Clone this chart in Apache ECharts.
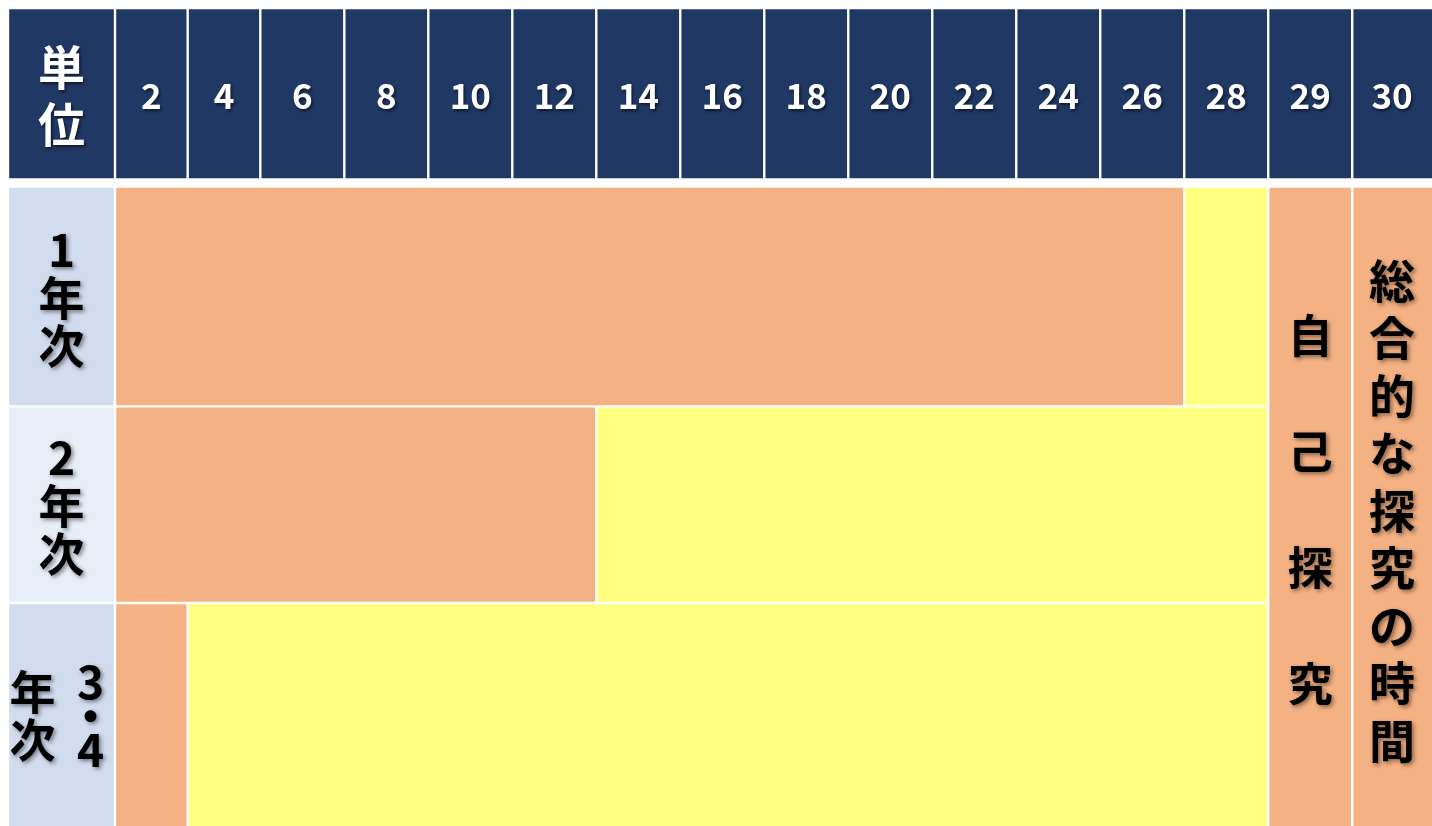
<!DOCTYPE html>
<html>
<head>
<meta charset="utf-8">
<script src="https://cdn.jsdelivr.net/npm/echarts@6/dist/echarts.min.js"></script>
<style>
  html, body { margin: 0; padding: 0; background: #ffffff; }
  #chart { width: 1432px; height: 826px; }
</style>
</head>
<body>
<div id="chart"></div>
<script>
// ---- data ----
const unitTicks = [2, 4, 6, 8, 10, 12, 14, 16, 18, 20, 22, 24, 26, 28, 29, 30];
const cornerLabel = '単位';
const years = ['1年次', '2年次', '3・4年次'];
const orangeUnits = [26, 12, 2];   // orange band ends at this unit
const yellowUnits = [28, 28, 28];  // yellow band ends at this unit
const sideUnits = [29, 30];
const sideTexts = ['自己探究', '総合的な探究の時間'];

// ---- layout (table geometry, not data) ----
const LABEL_W = 1.274;                                   // width of the label column
const COL_W = unitTicks.map((t, i) => i < 2 ? 0.865 : 1); // first two columns narrower
const ROW_H = [1.025, 0.917, 1.04];                       // body row heights
const HEAD_H = 0.8, HEAD_GAP = 0.033;
const X_MAX = 15.68;

const colEdges = [0];
COL_W.forEach(w => colEdges.push(colEdges[colEdges.length - 1] + w));
const rowEdges = [0];
ROW_H.forEach(h => rowEdges.push(rowEdges[rowEdges.length - 1] + h));
const Y_MAX = rowEdges[rowEdges.length - 1];
const HEAD_TOP = -(HEAD_H + HEAD_GAP), HEAD_BOTTOM = -HEAD_GAP;

const COLORS = {
  header: '#203864', corner: '#203864',
  year: '#D1DDEF', yearAlt: '#E8EEF7',
  orange: '#F4B183', yellow: '#FFFF80',
  side0: '#F4B183', side1: '#F4B183'
};
const FONT = '"Noto Sans CJK JP", "Noto Sans", sans-serif';

const colEnd = u => colEdges[unitTicks.indexOf(u) + 1];
const colStart = u => colEdges[unitTicks.indexOf(u)];

const items = [];
items.push([-LABEL_W, 0, HEAD_TOP, HEAD_BOTTOM, 'corner', cornerLabel]);
unitTicks.forEach(t => items.push([colStart(t), colEnd(t), HEAD_TOP, HEAD_BOTTOM, 'header', String(t)]));
years.forEach((y, i) => {
  const r0 = rowEdges[i], r1 = rowEdges[i + 1];
  items.push([-LABEL_W, 0, r0, r1, i % 2 ? 'yearAlt' : 'year', y]);
  items.push([0, colEnd(orangeUnits[i]), r0, r1, 'orange', '']);
  items.push([colEnd(orangeUnits[i]), colEnd(yellowUnits[i]), r0, r1, 'yellow', '']);
});
sideUnits.forEach((u, k) => items.push([colStart(u), colEnd(u), 0, Y_MAX, 'side' + k, sideTexts[k]]));

const whiteShadow = { textShadowColor: 'rgba(0,0,0,0.55)', textShadowBlur: 3, textShadowOffsetX: 1.5, textShadowOffsetY: 1.5 };
const blackShadow = { textShadowColor: 'rgba(0,0,0,0.45)', textShadowBlur: 4, textShadowOffsetX: 2, textShadowOffsetY: 2 };

function textEl(text, x, y, fontSize, lineHeight, fill, shadow) {
  return {
    type: 'text',
    style: Object.assign({
      text: text, x: x, y: y, fill: fill,
      fontSize: fontSize, fontFamily: FONT, fontWeight: 'bold',
      align: 'center', verticalAlign: 'middle', lineHeight: lineHeight
    }, shadow)
  };
}

function renderItem(params, api) {
  const it = items[params.dataIndex];
  const p0 = api.coord([it[0], it[2]]);
  const p1 = api.coord([it[1], it[3]]);
  const g = 1.2;
  const x = p0[0] + g, y = p0[1] + g;
  const w = p1[0] - p0[0] - 2 * g;
  const h = p1[1] - p0[1] - (it[3] >= Y_MAX ? g : 2 * g);
  const kind = it[4], txt = it[5];
  const cx = (p0[0] + Math.min(p1[0], params.coordSys.x + params.coordSys.width)) / 2;
  const cy = (p0[1] + p1[1]) / 2;
  const children = [{ type: 'rect', shape: { x, y, width: w, height: h }, style: { fill: COLORS[kind] } }];
  if (kind === 'header') {
    children.push(textEl(txt, cx, cy + 2, 35, 40, '#ffffff', whiteShadow));
  } else if (kind === 'corner') {
    children.push(textEl(txt.split('').join('\n'), cx, cy + 2, 47, 57, '#ffffff', whiteShadow));
  } else if (kind === 'year' || kind === 'yearAlt') {
    const chars = txt.split('');
    const cols = [];
    for (let i = 0; i < chars.length; i += 3) cols.push(chars.slice(i, i + 3));
    const spacing = 58;
    cols.forEach((col, ci) => {
      const offset = (cols.length - 1) / 2 * spacing - ci * spacing; // rightmost first
      const compact = /^[0-9・]+$/.test(col.join(''));
      children.push(textEl(col.join('\n'), cx + offset, cy + 1, 46, compact ? 34 : 48, '#000000', blackShadow));
    });
  } else if (kind === 'side0') {
    children.push(textEl(txt.split('').join('\n'), cx, cy + 4, 45, 116, '#000000', blackShadow));
  } else if (kind === 'side1') {
    children.push(textEl(txt.split('').join('\n'), cx, cy + 4, 46, 57.5, '#000000', blackShadow));
  }
  return { type: 'group', children };
}

const chart = echarts.init(document.getElementById('chart'));
chart.setOption({
  backgroundColor: '#ffffff',
  animation: false,
  grid: { left: 8, right: 0, top: 8, bottom: 0 },
  xAxis: { type: 'value', min: -LABEL_W, max: X_MAX, show: false },
  yAxis: { type: 'value', min: HEAD_TOP, max: Y_MAX, inverse: true, show: false },
  series: [{
    type: 'custom',
    renderItem: renderItem,
    clip: false,
    encode: { x: [0, 1], y: [2, 3] },
    data: items.map(it => [it[0], it[1], it[2], it[3]])
  }]
});
</script>
</body>
</html>
